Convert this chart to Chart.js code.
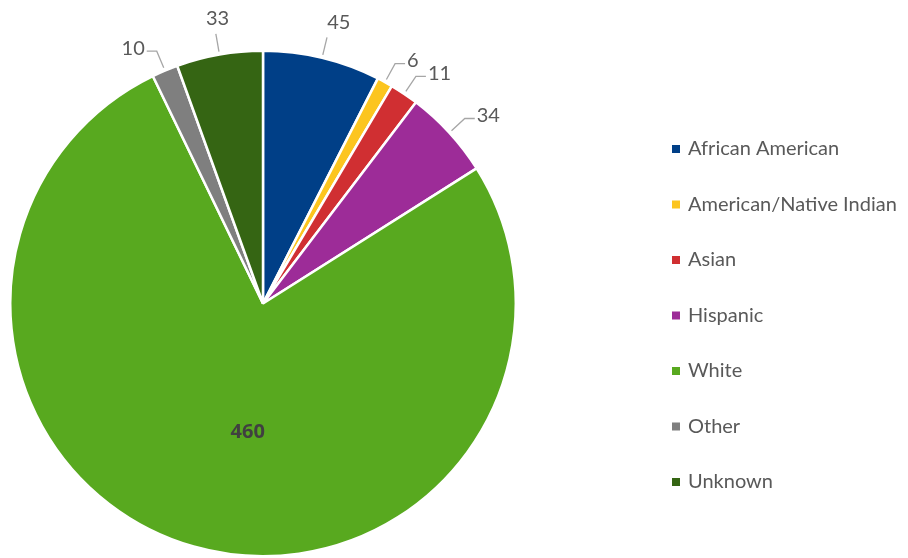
<html>
<head>
  <script src="https://cdn.jsdelivr.net/npm/chart.js@4.4.1/dist/chart.umd.min.js"></script>
  <style>
    body { margin: 0; background: #fff; }
    #wrap { width: 908px; height: 558px; position: relative; }
  </style>
</head>
<body>
  <div id="wrap"><canvas id="pieChart"></canvas></div>

<script>
  // Chart data.
  const categories = ["African American", "American/Native Indian", "Asian", "Hispanic", "White", "Other", "Unknown"];
  const counts = [45, 6, 11, 34, 460, 10, 33];
  const colors = ["#003f87", "#fcc51f", "#d02f32", "#9d2c98", "#58a91f", "#7f7f7f", "#356513"];

  const FONT = "Lato, sans-serif";
  const TEXT = "#595959";

  // Value labels with leader lines, and the legend on the right.
  const labelPlugin = {
    id: 'pieLabels',
    afterDatasetsDraw(chart) {
      const ctx = chart.ctx;
      const meta = chart.getDatasetMeta(0);
      ctx.save();
      meta.data.forEach((arc, i) => {
        const mid = (arc.startAngle + arc.endAngle) / 2;
        const dx = Math.cos(mid), dy = Math.sin(mid);
        const r = arc.outerRadius;
        if (i === 4) {
          // big slice: bold label inside
          ctx.font = "bold 20px 'Open Sans', sans-serif";
          ctx.fillStyle = "#404040";
          ctx.textAlign = "center";
          ctx.textBaseline = "middle";
          ctx.fillText(counts[i], arc.x + dx * r * 0.22, arc.y + dy * r * 0.53);
          return;
        }
        const side = dx >= 0 ? 1 : -1;
        const x1 = arc.x + dx * (r + 3), y1 = arc.y + dy * (r + 3);
        const x2 = arc.x + dx * (r + 21), y2 = arc.y + dy * (r + 21);
        ctx.strokeStyle = "#a6a6a6";
        ctx.lineWidth = 1.3;
        ctx.beginPath();
        ctx.moveTo(x1, y1);
        ctx.lineTo(x2, y2);
        let tx = x2, ty = y2;
        if (Math.abs(dx) > 0.35) {
          ctx.lineTo(x2 + side * 10, y2);
          tx = x2 + side * 12;
        }
        ctx.stroke();
        ctx.font = "20px " + FONT;
        ctx.fillStyle = TEXT;
        ctx.textBaseline = "middle";
        if (Math.abs(dx) > 0.35) {
          ctx.textAlign = side > 0 ? "left" : "right";
          ctx.fillText(counts[i], tx, ty - 3);
        } else {
          ctx.textAlign = "center";
          ctx.fillText(counts[i], tx + dx * 25 + 6, ty - 15);
        }
      });

      // legend
      ctx.font = "20px " + FONT;
      ctx.textAlign = "left";
      ctx.textBaseline = "middle";
      categories.forEach((name, i) => {
        const y = 149 + i * 55.5;
        ctx.fillStyle = colors[i];
        ctx.fillRect(672, y - 4, 8, 8);
        ctx.fillStyle = TEXT;
        ctx.fillText(name, 688, y);
      });
      ctx.restore();
    }
  };

  const ctxP = document.getElementById("pieChart").getContext('2d');
  new Chart(ctxP, {
    type: 'pie',
    data: {
      labels: categories,
      datasets: [{
        data: counts,
        backgroundColor: colors,
        borderColor: "#ffffff",
        borderWidth: 2.5
      }]
    },
    options: {
      responsive: true,
      maintainAspectRatio: false,
      animation: false,
      layout: { padding: { left: 9, right: 391, top: 49, bottom: 0 } },
      plugins: {
        legend: { display: false },
        tooltip: { enabled: false }
      }
    },
    plugins: [labelPlugin]
  });
</script>
</body>
</html>
